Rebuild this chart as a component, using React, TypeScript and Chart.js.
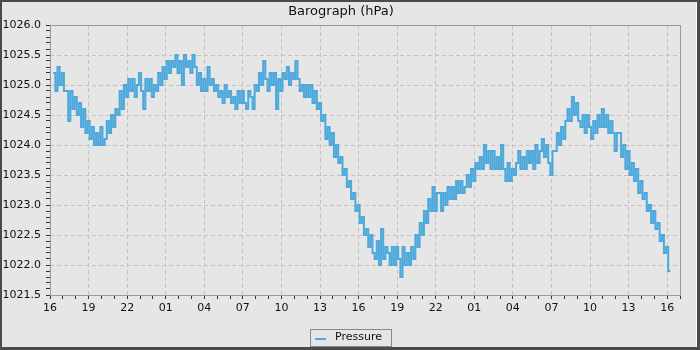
import React, { useEffect, useRef } from 'react';
import { Chart, registerables } from 'chart.js';

Chart.register(...registerables);

const FONT = "'DejaVu Sans', sans-serif";
const TITLE = 'Barograph (hPa)';
const SERIES_LABEL = 'Pressure';
const LINE_COLOR = '#4da9db';

// x axis: hours since 16:00 on day one
const START_CLOCK_HOUR = 16;
const X_MIN_H = 0;
const X_MAX_H = 49;
const LABEL_EVERY_H = 3;
const FIRST_SAMPLE_H = 0.25;
const SAMPLE_STEP_H = 1 / 6; // one reading every 10 minutes

// y axis
const Y_MIN = 1021.5;
const Y_MAX = 1026.0;
const Y_MINOR_STEP = 0.1;
const Y_LABEL_STEP = 0.5;

// pressure readings (hPa), six per hour
const pressure = [
  1025.2, 1024.9, 1025.3, 1025.0, 1025.2, 1024.9,
  1024.9, 1024.4, 1024.9, 1024.6, 1024.8, 1024.5,
  1024.7, 1024.3, 1024.6, 1024.2, 1024.4, 1024.1,
  1024.3, 1024.0, 1024.2, 1024.0, 1024.3, 1024.0,
  1024.1, 1024.4, 1024.2, 1024.5, 1024.3, 1024.6,
  1024.5, 1024.9, 1024.6, 1025.0, 1024.8, 1025.1,
  1024.9, 1025.1, 1024.8, 1025.0, 1025.2, 1024.9,
  1024.6, 1025.1, 1024.9, 1025.1, 1024.8, 1025.0,
  1024.9, 1025.2, 1025.0, 1025.3, 1025.1, 1025.4,
  1025.2, 1025.4, 1025.3, 1025.5, 1025.2, 1025.4,
  1025.0, 1025.5, 1025.3, 1025.4, 1025.2, 1025.5,
  1025.3, 1025.0, 1025.2, 1024.9, 1025.1, 1024.9,
  1025.3, 1025.0, 1025.1, 1024.9, 1025.0, 1024.8,
  1024.9, 1024.7, 1025.0, 1024.8, 1024.9, 1024.7,
  1024.8, 1024.6, 1024.9, 1024.7, 1024.9, 1024.7,
  1024.6, 1024.9, 1024.8, 1024.6, 1025.0, 1024.9,
  1025.2, 1025.0, 1025.4, 1025.1, 1024.9, 1025.2,
  1025.0, 1025.2, 1024.6, 1025.1, 1024.9, 1025.2,
  1025.1, 1025.3, 1025.0, 1025.2, 1025.1, 1025.4,
  1025.1, 1024.9, 1025.0, 1024.8, 1025.0, 1024.8,
  1025.0, 1024.7, 1024.9, 1024.6, 1024.7, 1024.4,
  1024.5, 1024.1, 1024.3, 1024.0, 1024.2, 1023.8,
  1024.0, 1023.7, 1023.8, 1023.5, 1023.6, 1023.3,
  1023.4, 1023.1, 1023.2, 1022.9, 1023.0, 1022.7,
  1022.8, 1022.5, 1022.6, 1022.3, 1022.5, 1022.2,
  1022.1, 1022.4, 1022.0, 1022.6, 1022.1, 1022.3,
  1022.2, 1022.0, 1022.3, 1022.0, 1022.3, 1022.1,
  1021.8, 1022.3, 1022.0, 1022.2, 1022.0, 1022.3,
  1022.1, 1022.5, 1022.3, 1022.7, 1022.5, 1022.9,
  1022.7, 1023.1, 1022.9, 1023.3, 1022.9, 1023.2,
  1023.2, 1022.9, 1023.2, 1023.0, 1023.3, 1023.1,
  1023.3, 1023.1, 1023.4, 1023.2, 1023.4, 1023.2,
  1023.3, 1023.5, 1023.3, 1023.6, 1023.4, 1023.7,
  1023.6, 1023.8, 1023.6, 1024.0, 1023.7, 1023.9,
  1023.6, 1023.9, 1023.6, 1023.8, 1023.6, 1024.0,
  1023.6, 1023.4, 1023.7, 1023.4, 1023.6, 1023.5,
  1023.7, 1023.9, 1023.6, 1023.8, 1023.6, 1023.9,
  1023.7, 1023.9, 1023.6, 1024.0, 1023.7, 1023.9,
  1024.1, 1023.8, 1024.0, 1023.7, 1023.5, 1023.9,
  1023.9, 1024.2, 1024.0, 1024.3, 1024.1, 1024.4,
  1024.6, 1024.4, 1024.8, 1024.5, 1024.7, 1024.4,
  1024.3, 1024.5, 1024.2, 1024.5, 1024.3, 1024.1,
  1024.4, 1024.2, 1024.5, 1024.3, 1024.6, 1024.3,
  1024.5, 1024.2, 1024.4, 1024.2, 1023.9, 1024.2,
  1024.2, 1023.8, 1024.0, 1023.6, 1023.9, 1023.5,
  1023.7, 1023.4, 1023.6, 1023.2, 1023.4, 1023.1,
  1023.2, 1022.9, 1023.0, 1022.7, 1022.9, 1022.6,
  1022.7, 1022.4, 1022.5, 1022.2, 1022.3, 1021.9,
  1021.9,
];

const isMultiple = (v: number, step: number) =>
  Math.abs(v / step - Math.round(v / step)) < 1e-6;

const hourLabel = (h: number) =>
  String((START_CLOCK_HOUR + h) % 24).padStart(2, '0');

const framePlugin = {
  id: 'frameAndLegend',
  afterDraw(chart: any) {
    const { ctx, chartArea: a } = chart;
    ctx.save();
    // plot frame
    const l = Math.round(a.left), t = Math.round(a.top);
    const r = Math.round(a.right), b = Math.round(a.bottom);
    ctx.strokeStyle = '#9a9a9a';
    ctx.lineWidth = 1;
    ctx.setLineDash([]);
    ctx.strokeRect(l + 0.5, t + 0.5, r - l, b - t);

    // legend box
    const ds = chart.data.datasets[0];
    ctx.font = `11px ${FONT}`;
    const tw = ctx.measureText(ds.label).width;
    const boxW = Math.round(5 + 11 + 9 + tw + 9);
    const left = Math.round(chart.width / 2 - boxW / 2 + 1.5);
    const top = chart.height - 18;
    ctx.strokeStyle = '#8a8a8a';
    ctx.strokeRect(left + 0.5, top + 0.5, boxW, 17);
    ctx.fillStyle = ds.borderColor;
    ctx.fillRect(left + 5, top + 9, 11, 2);
    ctx.fillStyle = '#111';
    ctx.textBaseline = 'middle';
    ctx.textAlign = 'left';
    ctx.fillText(ds.label, left + 25, top + 8.5);
    ctx.restore();
  },
};

export default function App() {
  const ref = useRef<HTMLCanvasElement>(null);

  useEffect(() => {
    const canvas = ref.current;
    if (!canvas) return;
    const data = pressure.map((v, i) => ({ x: FIRST_SAMPLE_H + i * SAMPLE_STEP_H, y: v }));
    const chart = new Chart(canvas, {
      type: 'line',
      data: {
        datasets: [
          {
            label: SERIES_LABEL,
            data,
            borderColor: LINE_COLOR,
            backgroundColor: LINE_COLOR,
            borderWidth: 2,
            pointRadius: 0,
            stepped: true,
            fill: false,
          },
        ],
      },
      options: {
        responsive: false,
        animation: false,
        devicePixelRatio: 1,
        layout: { padding: { left: 0, right: 16, top: 0, bottom: 28 } },
        plugins: {
          legend: { display: false },
          tooltip: { enabled: false },
          title: {
            display: true,
            text: TITLE,
            color: '#111',
            font: { family: FONT, size: 13, weight: 'normal' },
            padding: { top: 2, bottom: 5.4 },
          },
        },
        scales: {
          x: {
            type: 'linear',
            min: X_MIN_H,
            max: X_MAX_H,
            afterFit: (s: any) => { s.height = 24; },
            ticks: {
              stepSize: 1,
              autoSkip: false,
              maxRotation: 0,
              minRotation: 0,
              padding: 3,
              color: '#111',
              font: { family: FONT, size: 11 },
              callback: (value: any) => {
                const v = Number(value);
                return isMultiple(v, LABEL_EVERY_H) ? hourLabel(v) : '';
              },
            },
            grid: {
              color: (c: any) =>
                c.tick && isMultiple(c.tick.value, LABEL_EVERY_H) ? '#c2c2c2' : 'rgba(0,0,0,0)',
              tickColor: '#333',
              tickLength: 4,
              lineWidth: 1,
            },
            border: { display: false, dash: [4, 3] },
          },
          y: {
            type: 'linear',
            min: Y_MIN,
            max: Y_MAX,
            afterFit: (s: any) => { s.width = 48; },
            ticks: {
              stepSize: Y_MINOR_STEP,
              autoSkip: false,
              padding: 5,
              color: '#111',
              font: { family: FONT, size: 11 },
              callback: (value: any) => {
                const v = Number(value);
                return isMultiple(v, Y_LABEL_STEP) ? v.toFixed(1) : '';
              },
            },
            grid: {
              color: (c: any) =>
                c.tick && isMultiple(c.tick.value, Y_LABEL_STEP) ? '#c2c2c2' : 'rgba(0,0,0,0)',
              tickColor: '#333',
              tickLength: 4,
              lineWidth: 1,
            },
            border: { display: false, dash: [4, 3] },
          },
        },
      },
      plugins: [framePlugin],
    } as any);
    return () => chart.destroy();
  }, []);

  return (
    <div style={{ position: 'absolute', left: 0, top: 0, width: 700, height: 350, background: '#4b4b4b' }}>
      <div style={{ position: 'absolute', left: 2, top: 2, width: 695, height: 345, background: '#ffffff' }} />
      <canvas
        ref={ref}
        width={694}
        height={345}
        style={{ position: 'absolute', left: 2, top: 2, width: 694, height: 345, background: '#e6e6e6', display: 'block' }}
      />
    </div>
  );
}
